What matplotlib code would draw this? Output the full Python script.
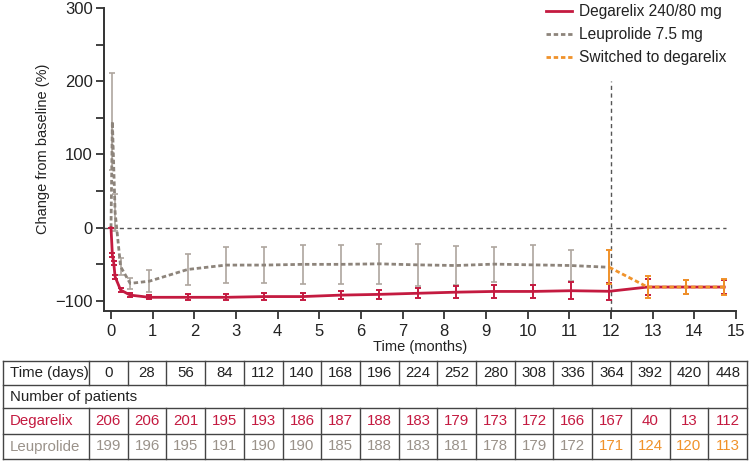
import numpy as np
import matplotlib
matplotlib.use("Agg")
import matplotlib.pyplot as plt
from matplotlib.lines import Line2D

plt.rcParams['font.family'] = ['Liberation Sans', 'DejaVu Sans']

# ---------------- data ----------------
deg_days = [0, 1, 2, 3, 7, 14, 28, 56, 84, 112, 140, 168, 196, 224, 252, 280, 308, 336, 364, 392, 420, 448]
deg_vals = [0, -37, -48, -67, -85, -92, -95, -95, -95, -94, -94, -92, -91, -89.5, -88, -87, -87, -86, -86.8, -81, -81, -81]
deg_err = [0, 3, 3, 3, 3, 3, 2.7, 4, 4, 4.5, 5, 5.5, 6.5, 7, 8.4, 9.4, 9, 11.8, 11.8, 11, 10, 10]

leu_days = [0, 1, 3, 7, 14, 28, 56, 84, 112, 140, 168, 196, 224, 252, 280, 308, 336, 364]
leu_vals = [0, 145, 21, -53, -76, -73, -57, -51, -51, -50, -50, -49.3, -50.7, -51.6, -49.7, -50.7, -51.6, -54]
leu_err = [0, 66, 25, 11, 8, 15, 21, 24, 25, 27, 27, 27, 29, 27, 24, 27, 21, 0]

sw_days = [364, 392, 420, 448]
sw_vals = [-54, -81, -81, -81]
sw_err = [23, 15, 10, 11]

x_ticks = list(range(0, 16))
y_ticks = [-100, 0, 100, 200, 300]

table_days = [0, 28, 56, 84, 112, 140, 168, 196, 224, 252, 280, 308, 336, 364, 392, 420, 448]
table_deg = [206, 206, 201, 195, 193, 186, 187, 188, 183, 179, 173, 172, 166, 167, 40, 13, 112]
table_leu = [199, 196, 195, 191, 190, 190, 185, 188, 183, 181, 178, 179, 172, 171, 124, 120, 113]
leu_switched_from = 364

DAYS_PER_MONTH = 30.44

RED = '#c41a40'
GREY_LINE = '#8d847b'
GREY_BAR = '#aea69e'
GREY_TXT = '#9a928a'
ORANGE = '#f0922a'
DARK = '#333333'
TXT = '#222222'

def months(d):
    return np.asarray(d, dtype=float) / DAYS_PER_MONTH

# ---------------- figure ----------------
fig = plt.figure(figsize=(7.5, 4.63), dpi=100)
W, H = 750, 463
ax = fig.add_axes([104 / W, 1 - 311 / H, 632 / W, 303 / H])

ax.set_xlim(-0.168, 15.0)
ax.set_ylim(-113.7, 300)

# reference lines
ax.hlines(0, -0.168, 14.75, colors='#555555', linestyles=(0, (3, 2.5)), lw=1.0, zorder=1)
ax.vlines(12, -113.7, 200, colors='#555555', linestyles=(0, (3, 2.5)), lw=1.0, zorder=1)

dash = (0, (1.6, 1.0))

# leuprolide
ax.errorbar(months(leu_days[:-1]), leu_vals[:-1], yerr=leu_err[:-1], fmt='none',
            ecolor=GREY_BAR, elinewidth=1.2, capsize=2.5, capthick=1.2, zorder=2)
ax.plot(months(leu_days), leu_vals, color=GREY_LINE, lw=2.0, linestyle=dash, zorder=3)

# degarelix
ax.errorbar(months(deg_days), deg_vals, yerr=deg_err, fmt='none',
            ecolor=RED, elinewidth=1.4, capsize=2.5, capthick=1.4, zorder=4)
ax.plot(months(deg_days), deg_vals, color=RED, lw=2.0, zorder=5)

# switched
ax.errorbar(months(sw_days), sw_vals, yerr=sw_err, fmt='none',
            ecolor=ORANGE, elinewidth=1.4, capsize=2.5, capthick=1.4, zorder=6)
ax.plot(months(sw_days), sw_vals, color=ORANGE, lw=2.0, linestyle=dash, zorder=7)

# axes styling
for s in ['top', 'right']:
    ax.spines[s].set_visible(False)
for s in ['left', 'bottom']:
    ax.spines[s].set_color(DARK)
    ax.spines[s].set_linewidth(1.4)

ax.set_xticks(x_ticks)
ax.set_yticks(y_ticks)
ax.set_yticks([-50, 50, 150, 250], minor=True)
ax.tick_params(axis='both', which='both', direction='out', length=6, width=1.3,
               color=DARK, labelsize=12, labelcolor=TXT)
ax.tick_params(axis='x', pad=3)
ax.tick_params(axis='y', pad=2)

ax.set_xlabel('Time (months)', fontsize=10.5, color=TXT, labelpad=1)
ax.set_ylabel('Change from baseline (%)', fontsize=10.5, color=TXT)
ax.yaxis.set_label_coords(-0.085, 0.535)

# legend
handles = [Line2D([], [], color=RED, lw=2.0),
           Line2D([], [], color=GREY_LINE, lw=2.0, linestyle=dash),
           Line2D([], [], color=ORANGE, lw=2.0, linestyle=dash)]
labels = ['Degarelix 240/80 mg', 'Leuprolide 7.5 mg', 'Switched to degarelix']
fig.legend(handles, labels, loc='upper left', bbox_to_anchor=(546 / W, 1 - 4 / H),
           frameon=False, fontsize=11.2, handlelength=1.7, handletextpad=0.45,
           labelspacing=0.52, borderpad=0, borderaxespad=0, labelcolor=TXT)

# ---------------- table ----------------
tax = fig.add_axes([3 / W, 1 - 459 / H, 744 / W, 98 / H])
tax.set_xlim(0, 744)
tax.set_ylim(98, 0)
tax.axis('off')

row_edges = [0, 24, 47, 73, 98]
first_w = 86
col_edges = np.linspace(first_w, 744, len(table_days) + 1)
lc = '#444444'
lw = 1.0
for y in row_edges:
    tax.plot([0, 744], [y, y], color=lc, lw=lw, clip_on=False)
tax.plot([0, 0], [0, 98], color=lc, lw=lw, clip_on=False)
tax.plot([744, 744], [0, 98], color=lc, lw=lw, clip_on=False)
for xe in col_edges[:-1]:
    tax.plot([xe, xe], [row_edges[0], row_edges[1]], color=lc, lw=lw, clip_on=False)
    tax.plot([xe, xe], [row_edges[2], row_edges[4]], color=lc, lw=lw, clip_on=False)

fs = 10.8
centers = (col_edges[:-1] + col_edges[1:]) / 2
rc = [(row_edges[i] + row_edges[i + 1]) / 2 for i in range(4)]
tax.text(7, rc[0], 'Time (days)', ha='left', va='center', fontsize=fs, color=TXT)
tax.text(7, rc[1], 'Number of patients', ha='left', va='center', fontsize=fs, color=TXT)
tax.text(7, rc[2], 'Degarelix', ha='left', va='center', fontsize=fs, color=RED)
tax.text(7, rc[3], 'Leuprolide', ha='left', va='center', fontsize=fs, color=GREY_TXT)
for cx, d, nd, nl in zip(centers, table_days, table_deg, table_leu):
    tax.text(cx, rc[0], str(d), ha='center', va='center', fontsize=fs, color=TXT)
    tax.text(cx, rc[2], str(nd), ha='center', va='center', fontsize=fs, color=RED)
    tax.text(cx, rc[3], str(nl), ha='center', va='center', fontsize=fs,
             color=ORANGE if d >= leu_switched_from else GREY_TXT)

fig.savefig('out.png', dpi=100)
